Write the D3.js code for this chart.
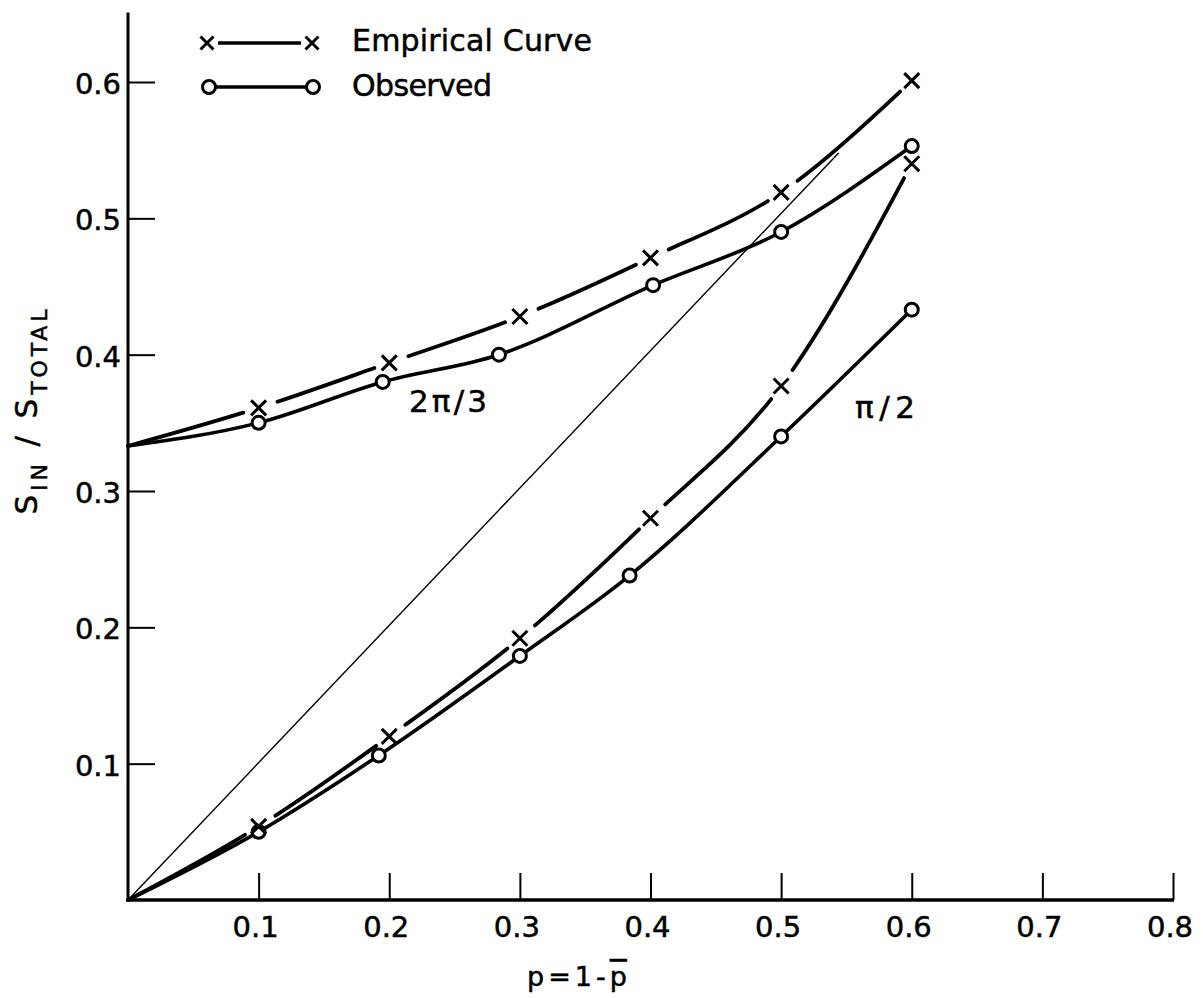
<!DOCTYPE html>
<html>
<head>
<meta charset="utf-8">
<script src="https://cdn.jsdelivr.net/npm/d3@7"></script>
<style>
  html, body { margin: 0; padding: 0; background: #fff; }
  svg { display: block; }
  text { font-family: "DejaVu Sans", sans-serif; fill: #000; stroke: #000; stroke-width: 0.5px; }
</style>
</head>
<body>
<svg id="chart" width="1203" height="998"></svg>
<script>
// ---- data ----
const xTicks = [0.1, 0.2, 0.3, 0.4, 0.5, 0.6, 0.7, 0.8];
const xTickLabels = ["0.1", "0.2", "0.3", "0.4", "0.5", "0.6", "0.7", "0.8"];
const yTicks = [0.1, 0.2, 0.3, 0.4, 0.5, 0.6];
const yTickLabels = ["0.1", "0.2", "0.3", "0.4", "0.5", "0.6"];

// 2π/3 curves
const upperEmpX = [0, 0.1, 0.2, 0.3, 0.4, 0.5, 0.6];
const upperEmpY = [0.333, 0.361, 0.394, 0.428, 0.471, 0.519, 0.601];
const upperObsX = [0, 0.1, 0.195, 0.284, 0.402, 0.5, 0.6];
const upperObsY = [0.333, 0.350, 0.380, 0.400, 0.451, 0.490, 0.553];
// π/2 curves
const lowerEmpX = [0, 0.1, 0.2, 0.3, 0.4, 0.5, 0.6];
const lowerEmpY = [0, 0.054, 0.120, 0.192, 0.280, 0.377, 0.540];
const lowerObsX = [0, 0.1, 0.192, 0.3, 0.384, 0.5, 0.6];
const lowerObsY = [0, 0.050, 0.106, 0.179, 0.238, 0.340, 0.433];
// reference diagonal
const diagX = [0, 0.544];
const diagY = [0, 0.548];

const curveLabels = ["2π/3", "π/2"];
const legendLabels = ["Empirical Curve", "Observed"];

// ---- scales ----
const svg = d3.select("#chart");
const x = d3.scaleLinear().domain([0, 0.8]).range([128, 1173]);
const y = d3.scaleLinear().domain([0, 0.6]).range([900, 82]);
const yTop = 0.651;

const zip = (xs, ys) => xs.map((v, i) => [v, ys[i]]);
const line = d3.line().x(d => x(d[0])).y(d => y(d[1])).curve(d3.curveMonotoneX);

// ---- axes ----
svg.append("line").attr("x1", x(0)).attr("x2", x(0)).attr("y1", y(yTop)).attr("y2", y(0))
  .attr("stroke", "#000").attr("stroke-width", 3);
svg.append("line").attr("x1", x(0) - 1.5).attr("x2", x(0.8) + 1).attr("y1", y(0)).attr("y2", y(0))
  .attr("stroke", "#000").attr("stroke-width", 3.5);

const xAxis = d3.axisTop(x).tickValues(xTicks).tickSize(27).tickFormat("");
const gx = svg.append("g").attr("transform", `translate(0,${y(0)})`).call(xAxis);
gx.select(".domain").remove();
gx.selectAll(".tick line").attr("stroke", "#000").attr("stroke-width", 2);

const yAxis = d3.axisRight(y).tickValues(yTicks).tickSize(27).tickFormat("");
const gy = svg.append("g").attr("transform", `translate(${x(0)},0)`).call(yAxis);
gy.select(".domain").remove();
gy.selectAll(".tick line").attr("stroke", "#000").attr("stroke-width", 2);

svg.append("g").selectAll("text").data(xTicks).join("text")
  .attr("x", d => x(d) - 3).attr("y", y(0) + 37)
  .attr("text-anchor", "middle").attr("font-size", 29)
  .text((d, i) => xTickLabels[i]);

svg.append("g").selectAll("text").data(yTicks).join("text")
  .attr("x", x(0) - 7).attr("y", d => y(d) + 12)
  .attr("text-anchor", "end").attr("font-size", 29)
  .text((d, i) => yTickLabels[i]);

// axis titles
const yt = svg.append("text").attr("transform", "translate(37,412) rotate(-90)")
  .attr("text-anchor", "middle").attr("font-size", 31)
  .attr("textLength", 205).attr("lengthAdjust", "spacing");
yt.append("tspan").text("S");
yt.append("tspan").attr("font-size", 22).attr("dy", 10).text("IN");
yt.append("tspan").attr("dy", -10).text(" / S");
yt.append("tspan").attr("font-size", 22).attr("dy", 10).text("TOTAL");

const xt = svg.append("text").attr("x", 527).attr("y", 986).attr("font-size", 27)
  .attr("textLength", 100).attr("lengthAdjust", "spacing");
xt.append("tspan").text("p = 1 - ");
xt.append("tspan").style("text-decoration", "overline").text("p");

// ---- diagonal ----
svg.append("path").datum(zip(diagX, diagY))
  .attr("d", d3.line().x(d => x(d[0])).y(d => y(d[1])))
  .attr("fill", "none").attr("stroke", "#000").attr("stroke-width", 1.4);

// ---- curves ----
function drawObserved(xs, ys) {
  const data = zip(xs, ys);
  svg.append("path").datum(data).attr("d", line)
    .attr("fill", "none").attr("stroke", "#000").attr("stroke-width", 3.6)
    .attr("stroke-linecap", "round");
  svg.append("g").selectAll("circle").data(data.slice(1)).join("circle")
    .attr("cx", d => x(d[0])).attr("cy", d => y(d[1])).attr("r", 6.5)
    .attr("fill", "#fff").attr("stroke", "#000").attr("stroke-width", 3);
}

function drawCross(g, cx, cy, s) {
  g.append("path").attr("d", `M${cx - s},${cy - s}L${cx + s},${cy + s}M${cx - s},${cy + s}L${cx + s},${cy - s}`)
    .attr("stroke", "#000").attr("stroke-width", 3).attr("fill", "none");
}

function drawEmpirical(xs, ys) {
  const data = zip(xs, ys);
  const p = svg.append("path").datum(data).attr("d", line)
    .attr("fill", "none").attr("stroke", "#000").attr("stroke-width", 3.8)
    .attr("stroke-linecap", "round");
  const node = p.node();
  const total = node.getTotalLength();
  const marks = data.slice(1).map(d => {
    const px = x(d[0]), py = y(d[1]);
    let best = 0, bd = Infinity;
    for (let s = 0; s <= total; s += 0.5) {
      const pt = node.getPointAtLength(s);
      const dd = (pt.x - px) ** 2 + (pt.y - py) ** 2;
      if (dd < bd) { bd = dd; best = s; }
    }
    return best;
  });
  const gb = 16, ga = 20;
  const dashes = [];
  let cur = 0;
  marks.forEach(s => {
    const end = Math.max(cur, s - gb);
    dashes.push(end - cur);
    const next = Math.min(total, s + ga);
    dashes.push(next - end);
    cur = next;
  });
  if (cur < total) { dashes.push(total - cur); dashes.push(total); }
  else { dashes.push(0); dashes.push(total); }
  p.attr("stroke-dasharray", dashes.join(","));
  const g = svg.append("g");
  data.slice(1).forEach(d => drawCross(g, x(d[0]), y(d[1]), 7.5));
}

drawObserved(upperObsX, upperObsY);
drawObserved(lowerObsX, lowerObsY);
drawEmpirical(upperEmpX, upperEmpY);
drawEmpirical(lowerEmpX, lowerEmpY);

// curve labels
svg.append("text").attr("x", 409).attr("y", 412).attr("font-size", 31)
  .attr("textLength", 78).attr("lengthAdjust", "spacing").text(curveLabels[0]);
svg.append("text").attr("x", 855).attr("y", 418).attr("font-size", 31)
  .attr("textLength", 60).attr("lengthAdjust", "spacing").text(curveLabels[1]);

// ---- legend ----
const lg = svg.append("g");
drawCross(lg, 207, 43, 6.5);
drawCross(lg, 312, 43, 6.5);
lg.append("line").attr("x1", 218).attr("x2", 301).attr("y1", 43).attr("y2", 43)
  .attr("stroke", "#000").attr("stroke-width", 3.5);
lg.append("line").attr("x1", 210).attr("x2", 312).attr("y1", 87).attr("y2", 87)
  .attr("stroke", "#000").attr("stroke-width", 3.5);
lg.append("circle").attr("cx", 209).attr("cy", 87).attr("r", 6.5)
  .attr("fill", "#fff").attr("stroke", "#000").attr("stroke-width", 3);
lg.append("circle").attr("cx", 313).attr("cy", 87).attr("r", 6.5)
  .attr("fill", "#fff").attr("stroke", "#000").attr("stroke-width", 3);
lg.append("text").attr("x", 352).attr("y", 51).attr("font-size", 30)
  .attr("textLength", 240).attr("lengthAdjust", "spacing").text(legendLabels[0]);
lg.append("text").attr("x", 352).attr("y", 96).attr("font-size", 30)
  .attr("textLength", 140).attr("lengthAdjust", "spacing").text(legendLabels[1]);
</script>
</body>
</html>
